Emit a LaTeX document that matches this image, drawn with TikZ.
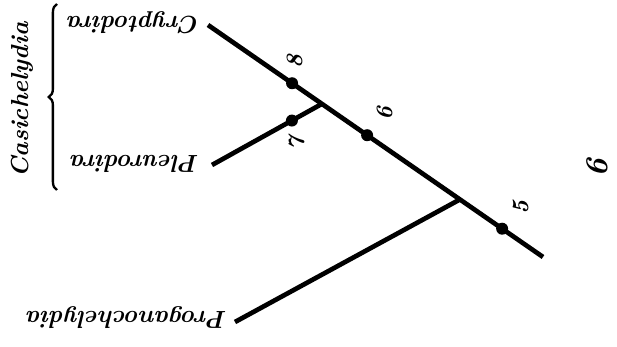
\documentclass[tikz,border=0pt]{standalone}
\usetikzlibrary{decorations.pathreplacing}

\begin{document}
\begin{tikzpicture}[x=0.03cm, y=-0.03cm, line width=4pt,
        taxon/.style={rotate=180, inner sep=0pt, font=\fontsize{21}{24}\selectfont\bfseries\itshape},
        num/.style={rotate=90, inner sep=0pt, font=\fontsize{20}{24}\selectfont\bfseries\itshape},
        dot/.style={circle, fill, inner sep=0pt, minimum size=3.6mm}]

    \useasboundingbox (0,0) rectangle (617,347);

    % --- końce gałęzi i węzły ---
    \coordinate (cTip) at (208,25);
    \coordinate (pTip) at (212,165);
    \coordinate (gTip) at (235,322);
    \coordinate (root) at (543,257);

    \path (cTip) -- (root)
        coordinate[pos=0.251] (a8)
        coordinate[pos=0.340] (j8)
        coordinate[pos=0.475] (a6)
        coordinate[pos=0.752] (j5)
        coordinate[pos=0.878] (a5);
    \path (pTip) -- (j8) coordinate[pos=0.727] (a7);

    % --- gałęzie ---
    \draw (cTip) -- (root);
    \draw (pTip) -- (j8);
    \draw (gTip) -- (j5);

    % --- apomorfie ---
    \foreach \k in {5,6,7,8} {
        \node[dot] (n\k) at (a\k) {};
    }
    \node[num] (l8) at (295,62) {8};
    \node[num] (l7) at (297,144) {7};
    \node[num] (l6) at (385,114) {6};
    \node[num] (l5) at (521,208) {5};

    % --- taksony ---
    \node[taxon] (cryp) at (134,23) {Cryptodira};
    \node[taxon] (pleu) at (135,164) {Pleurodira};
    \node[taxon] (prog) at (127,318) {Proganochelydia};

    % --- klamra ---
    \draw[line width=2pt, decorate, decoration={brace, amplitude=7pt}] (57,190) -- (57,4);
    \node[rotate=90, font=\fontsize{21}{24}\selectfont\bfseries\itshape] (casi) at (22,100) {Casichelydia};

    \node[rotate=90, font=\fontsize{27}{30}\selectfont\bfseries\itshape] (fig) at (597,168) {6};

\end{tikzpicture}
\end{document}
